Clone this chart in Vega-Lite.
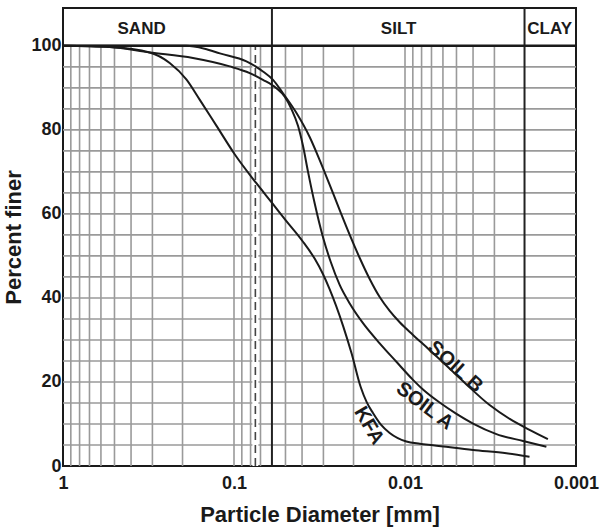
{
 "$schema": "https://vega.github.io/schema/vega-lite/v6.json",
 "width": 513,
 "height": 458,
 "autosize": {"type": "none"},
 "padding": {"left": 63, "top": 8, "right": 26, "bottom": 66},
 "background": "white",
 "config": {
  "view": {"stroke": "#1a1a1a", "strokeWidth": 2},
  "font": "Liberation Sans"
 },
 "datasets": {
  "hgrid": [{"p":5},{"p":10},{"p":15},{"p":20},{"p":25},{"p":30},{"p":35},{"p":40},{"p":45},{"p":50},{"p":55},{"p":60},{"p":65},{"p":70},{"p":75},{"p":80},{"p":85},{"p":90},{"p":95}],
  "vgrid": [{"d":0.9},{"d":0.8},{"d":0.7},{"d":0.6},{"d":0.5},{"d":0.4},{"d":0.3},{"d":0.2},{"d":0.1},{"d":0.09},{"d":0.08},{"d":0.07},{"d":0.05},{"d":0.04},{"d":0.03},{"d":0.02},{"d":0.01},{"d":0.009},{"d":0.008},{"d":0.007},{"d":0.006},{"d":0.005},{"d":0.004},{"d":0.003}],
  "bounds": [{"d":0.06},{"d":0.002}],
  "sieve": [{"d":0.075}],
  "zones": [{"zone":"SAND","d":0.347},{"zone":"SILT","d":0.0109},{"zone":"CLAY","d":0.001426}],
  "labels": [{"name":"SOIL B","d":0.00507,"p":23.6},{"name":"SOIL A","d":0.00767,"p":14.3},{"name":"KFA","d":0.01626,"p":9.6}],
  "curves": [
   {"s":"KFA","d":1,"p":100},{"s":"KFA","d":0.533,"p":99.7},{"s":"KFA","d":0.311,"p":98.4},{"s":"KFA","d":0.2377,"p":95.9},{"s":"KFA","d":0.19,"p":92.0},{"s":"KFA","d":0.1588,"p":87.2},{"s":"KFA","d":0.1268,"p":81.0},{"s":"KFA","d":0.0991,"p":74.2},{"s":"KFA","d":0.074,"p":67.3},{"s":"KFA","d":0.0596,"p":62.5},{"s":"KFA","d":0.0498,"p":58.45},{"s":"KFA","d":0.0398,"p":53.55},{"s":"KFA","d":0.0337,"p":49.3},{"s":"KFA","d":0.0302,"p":45.7},{"s":"KFA","d":0.0276,"p":42.1},{"s":"KFA","d":0.023,"p":33.3},{"s":"KFA","d":0.0205,"p":26.7},{"s":"KFA","d":0.01816,"p":18.8},{"s":"KFA","d":0.01675,"p":15.2},{"s":"KFA","d":0.01539,"p":12.6},{"s":"KFA","d":0.01387,"p":9.9},{"s":"KFA","d":0.01229,"p":7.86},{"s":"KFA","d":0.00982,"p":5.83},{"s":"KFA","d":0.0082,"p":5.29},{"s":"KFA","d":0.00686,"p":4.95},{"s":"KFA","d":0.004,"p":3.81},{"s":"KFA","d":0.00255,"p":3.02},{"s":"KFA","d":0.00187,"p":2.21},
   {"s":"SOIL A","d":1,"p":100},{"s":"SOIL A","d":0.533,"p":99.7},{"s":"SOIL A","d":0.311,"p":98.4},{"s":"SOIL A","d":0.1738,"p":97.1},{"s":"SOIL A","d":0.1059,"p":95.1},{"s":"SOIL A","d":0.0809,"p":93.5},{"s":"SOIL A","d":0.0677,"p":91.9},{"s":"SOIL A","d":0.0565,"p":89.9},{"s":"SOIL A","d":0.0505,"p":87.9},{"s":"SOIL A","d":0.0462,"p":85.0},{"s":"SOIL A","d":0.0422,"p":80.9},{"s":"SOIL A","d":0.0395,"p":76.2},{"s":"SOIL A","d":0.0369,"p":70.0},{"s":"SOIL A","d":0.0337,"p":62.4},{"s":"SOIL A","d":0.0302,"p":54.5},{"s":"SOIL A","d":0.0272,"p":48.6},{"s":"SOIL A","d":0.0241,"p":43.1},{"s":"SOIL A","d":0.02105,"p":38.7},{"s":"SOIL A","d":0.0176,"p":34.0},{"s":"SOIL A","d":0.01406,"p":29.2},{"s":"SOIL A","d":0.01123,"p":24.8},{"s":"SOIL A","d":0.00898,"p":20.5},{"s":"SOIL A","d":0.00785,"p":18.2},{"s":"SOIL A","d":0.00627,"p":15.1},{"s":"SOIL A","d":0.005,"p":12.4},{"s":"SOIL A","d":0.004,"p":10.1},{"s":"SOIL A","d":0.00292,"p":7.6},{"s":"SOIL A","d":0.00204,"p":5.95},{"s":"SOIL A","d":0.00149,"p":4.6},
   {"s":"SOIL B","d":1,"p":100},{"s":"SOIL B","d":0.19,"p":100},{"s":"SOIL B","d":0.1484,"p":99.3},{"s":"SOIL B","d":0.121,"p":98.2},{"s":"SOIL B","d":0.0846,"p":96.3},{"s":"SOIL B","d":0.0677,"p":93.9},{"s":"SOIL B","d":0.0591,"p":91.9},{"s":"SOIL B","d":0.0517,"p":88.7},{"s":"SOIL B","d":0.0431,"p":84.0},{"s":"SOIL B","d":0.0361,"p":78.3},{"s":"SOIL B","d":0.03154,"p":72.8},{"s":"SOIL B","d":0.02756,"p":66.9},{"s":"SOIL B","d":0.02409,"p":60.9},{"s":"SOIL B","d":0.02105,"p":55.0},{"s":"SOIL B","d":0.0184,"p":49.5},{"s":"SOIL B","d":0.01609,"p":44.5},{"s":"SOIL B","d":0.01406,"p":40.2},{"s":"SOIL B","d":0.01229,"p":36.9},{"s":"SOIL B","d":0.01074,"p":34.2},{"s":"SOIL B","d":0.00898,"p":31.2},{"s":"SOIL B","d":0.0075,"p":28.3},{"s":"SOIL B","d":0.00627,"p":25.4},{"s":"SOIL B","d":0.00526,"p":22.5},{"s":"SOIL B","d":0.00437,"p":19.4},{"s":"SOIL B","d":0.0032,"p":14.5},{"s":"SOIL B","d":0.00244,"p":11.2},{"s":"SOIL B","d":0.00187,"p":8.6},{"s":"SOIL B","d":0.00146,"p":6.4}
  ]
 },
 "layer": [
  {
   "data": {"name": "hgrid"},
   "mark": {"type": "rule", "stroke": "#9a9a9a", "strokeWidth": 1.6},
   "encoding": {
    "y": {"field": "p", "type": "quantitative", "scale": {"domain": [0, 109], "nice": false, "zero": false}},
    "x": {"datum": 1, "type": "quantitative", "scale": {"type": "log", "domain": [0.001, 1], "reverse": true, "nice": false}},
    "x2": {"datum": 0.001}
   }
  },
  {
   "data": {"name": "vgrid"},
   "mark": {"type": "rule", "stroke": "#9a9a9a", "strokeWidth": 1.6},
   "encoding": {
    "x": {"field": "d", "type": "quantitative", "scale": {"type": "log", "domain": [0.001, 1], "reverse": true, "nice": false}},
    "y": {"datum": 0, "type": "quantitative", "scale": {"domain": [0, 109], "nice": false, "zero": false}},
    "y2": {"datum": 100}
   }
  },
  {
   "data": {"name": "sieve"},
   "mark": {"type": "rule", "stroke": "white", "strokeWidth": 6},
   "encoding": {
    "x": {"field": "d", "type": "quantitative", "scale": {"type": "log", "domain": [0.001, 1], "reverse": true, "nice": false}},
    "y": {"datum": 0, "type": "quantitative", "scale": {"domain": [0, 109], "nice": false, "zero": false}},
    "y2": {"datum": 100}
   }
  },
  {
   "data": {"name": "sieve"},
   "mark": {"type": "rule", "stroke": "#444", "strokeWidth": 1.6, "strokeDash": [8, 5]},
   "encoding": {
    "x": {"field": "d", "type": "quantitative", "scale": {"type": "log", "domain": [0.001, 1], "reverse": true, "nice": false}},
    "y": {"datum": 0, "type": "quantitative", "scale": {"domain": [0, 109], "nice": false, "zero": false}},
    "y2": {"datum": 100}
   }
  },
  {
   "data": {"name": "bounds"},
   "mark": {"type": "rule", "stroke": "#222", "strokeWidth": 2},
   "encoding": {
    "x": {"field": "d", "type": "quantitative", "scale": {"type": "log", "domain": [0.001, 1], "reverse": true, "nice": false}},
    "y": {"datum": 0, "type": "quantitative", "scale": {"domain": [0, 109], "nice": false, "zero": false}},
    "y2": {"datum": 109}
   }
  },
  {
   "data": {"values": [{"p": 100}]},
   "mark": {"type": "rule", "stroke": "#1a1a1a", "strokeWidth": 2.5},
   "encoding": {
    "y": {"field": "p", "type": "quantitative", "scale": {"domain": [0, 109], "nice": false, "zero": false}},
    "x": {"datum": 1, "type": "quantitative", "scale": {"type": "log", "domain": [0.001, 1], "reverse": true, "nice": false}},
    "x2": {"datum": 0.001}
   }
  },
  {
   "data": {"name": "curves"},
   "mark": {"type": "line", "stroke": "#1a1a1a", "strokeWidth": 2, "interpolate": "monotone"},
   "encoding": {
    "x": {"field": "d", "type": "quantitative",
     "scale": {"type": "log", "domain": [0.001, 1], "reverse": true, "nice": false},
     "axis": {"values": [1, 0.1, 0.01, 0.001], "format": "~g", "labelFlush": false, "labelOverlap": false, "ticks": false, "domain": false, "grid": false, "labelFontSize": 18, "labelFontWeight": "bold", "labelColor": "#1a1a1a", "labelPadding": 8, "title": "Particle Diameter [mm]", "titleFontSize": 22, "titleFontWeight": "bold", "titleColor": "#1a1a1a", "titlePadding": 12}},
    "y": {"field": "p", "type": "quantitative",
     "scale": {"domain": [0, 109], "nice": false, "zero": false},
     "axis": {"values": [0, 20, 40, 60, 80, 100], "ticks": false, "domain": false, "grid": false, "labelFontSize": 18, "labelFontWeight": "bold", "labelColor": "#1a1a1a", "labelPadding": 2, "title": "Percent finer", "titleFontSize": 22, "titleFontWeight": "bold", "titleColor": "#1a1a1a", "titlePadding": 5}},
    "detail": {"field": "s", "type": "nominal"},
    "order": {"field": "d", "type": "quantitative", "sort": "descending"}
   }
  },
  {
   "data": {"name": "zones"},
   "mark": {"type": "text", "fontSize": 17, "fontWeight": "bold", "color": "#1a1a1a", "baseline": "middle", "align": "center"},
   "encoding": {
    "x": {"field": "d", "type": "quantitative", "scale": {"type": "log", "domain": [0.001, 1], "reverse": true, "nice": false}},
    "y": {"datum": 104.1, "type": "quantitative", "scale": {"domain": [0, 109], "nice": false, "zero": false}},
    "text": {"field": "zone", "type": "nominal"}
   }
  },
  {
   "data": {"name": "labels"},
   "transform": [{"filter": "datum.name == 'SOIL B'"}],
   "mark": {"type": "text", "fontSize": 20, "fontWeight": "bold", "color": "#1a1a1a", "baseline": "middle", "align": "center", "angle": 42},
   "encoding": {
    "x": {"field": "d", "type": "quantitative", "scale": {"type": "log", "domain": [0.001, 1], "reverse": true, "nice": false}},
    "y": {"field": "p", "type": "quantitative", "scale": {"domain": [0, 109], "nice": false, "zero": false}},
    "text": {"field": "name", "type": "nominal"}
   }
  },
  {
   "data": {"name": "labels"},
   "transform": [{"filter": "datum.name == 'SOIL A'"}],
   "mark": {"type": "text", "fontSize": 20, "fontWeight": "bold", "color": "#1a1a1a", "baseline": "middle", "align": "center", "angle": 37},
   "encoding": {
    "x": {"field": "d", "type": "quantitative", "scale": {"type": "log", "domain": [0.001, 1], "reverse": true, "nice": false}},
    "y": {"field": "p", "type": "quantitative", "scale": {"domain": [0, 109], "nice": false, "zero": false}},
    "text": {"field": "name", "type": "nominal"}
   }
  },
  {
   "data": {"name": "labels"},
   "transform": [{"filter": "datum.name == 'KFA'"}],
   "mark": {"type": "text", "fontSize": 20, "fontWeight": "bold", "color": "#1a1a1a", "baseline": "middle", "align": "center", "angle": 60},
   "encoding": {
    "x": {"field": "d", "type": "quantitative", "scale": {"type": "log", "domain": [0.001, 1], "reverse": true, "nice": false}},
    "y": {"field": "p", "type": "quantitative", "scale": {"domain": [0, 109], "nice": false, "zero": false}},
    "text": {"field": "name", "type": "nominal"}
   }
  }
 ]
}
